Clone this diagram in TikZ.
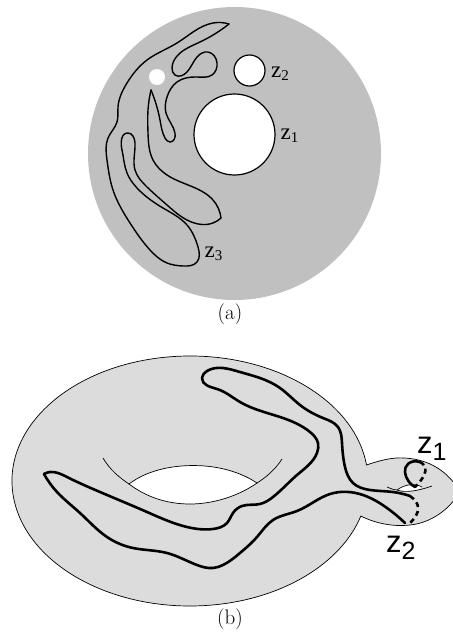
\documentclass[tikz,border=0pt]{standalone}
\usepackage{fontspec}
\usepackage{xcolor}
\usetikzlibrary{hobby}
\newfontfamily\serifz{Liberation Serif}
\newfontfamily\sansz{Liberation Sans}
\definecolor{diskgray}{HTML}{C0C0C0}
\definecolor{torusgray}{HTML}{DCDCDC}
\newcommand{\zserif}[1]{{\serifz\fontsize{23}{23}\selectfont z\raisebox{-3.5pt}{\fontsize{15}{15}\selectfont #1}}}
\newcommand{\zsans}[1]{{\sansz\fontsize{31}{31}\selectfont z\raisebox{-7pt}{\fontsize{25}{25}\selectfont #1}}}
\begin{document}
\begin{tikzpicture}[
    x=1pt,
    y=-1pt,
    use Hobby shortcut,
    curve/.style={
        draw=black,
        line width=1.4pt,
        line cap=round
    },
    thickcurve/.style={
        draw=black,
        line width=2.6pt,
        line cap=round,
        line join=round
    },
    thincurve/.style={
        draw=black,
        line width=0.7pt
    },
    hole/.style={
        draw=black,
        fill=white,
        line width=1.2pt
    },
    caption/.style={
        inner sep=0pt,
        font=\fontsize{21}{21}\selectfont
    },
    zlabel/.style={
        inner sep=0pt,
        anchor=base west
    }
]
\useasboundingbox (0,0) rectangle (453,633);
\clip (0,0) rectangle (453,633);
% Disk with the two holes
\fill[diskgray] (234.5,153.5) circle (146.5);
\draw[hole] (234.5,134.5) circle (40.5);
\draw[hole] (249.5,70.5) circle (15.5);
\fill[white] (157,77) circle (8);
% Loop on the disk
\draw[curve] (229,24) .. (213,23) .. (177,43) .. (147,60) .. (127,83)
    .. (118,107) .. (117,122) .. (108,138) .. (107,160) .. (113,190) .. (130,223)
    .. (150,250) .. (167,263) .. (183,266) .. (197,262) .. (198,247) .. (187,225)
    .. (163,208) .. (137,188) .. (127,173) .. (122,150) .. (128,133) .. (135,143)
    .. (135,170) .. (147,187) .. (167,205) .. (187,220) .. (213,223) .. (221,218);
\draw[curve] (221,218) .. (213,200) .. (193,187) .. (167,175) .. (153,160)
    .. (148,133) .. (148,110) .. (151,90);
\draw[curve] (151,90) .. (160,120) .. (165,138) .. (170,142) .. (175,133) .. (166,113)
    .. (167,97) .. (177,82) .. (197,77) .. (212,75) .. (217,63) .. (208,52) .. (197,57)
    .. (187,72) .. (175,75) .. (172,68) .. (178,55) .. (200,42) .. (229,24);
\node[zlabel] (z1a) at (280.5,139) {\zserif{1}};
\node[zlabel] (z2a) at (271,77) {\zserif{2}};
\node[zlabel] (z3a) at (204.5,257) {\zserif{3}};
\node[caption] (capa) at (230,314) {(a)};
% Torus outline
\draw[thincurve, fill=torusgray] (366.5,465)
    arc[start angle=-7.35, end angle=-343.7, x radius=178, y radius=125]
    .. controls (375,523) and (392,527) .. (410,525)
    .. controls (430,523) and (450,510) .. (460,491)
    .. controls (450,476) and (435,460) .. (405,458)
    .. controls (392,457) and (378,461) .. (366.5,465) -- cycle;
% Hole of the torus
\draw[thincurve, fill=white] (129,484) .. controls (150,468) and (180,464) .. (205,466)
    .. controls (228,468) and (245,475) .. (257,483)
    .. controls (240,495) and (215,504) .. (190,504)
    .. controls (165,504) and (145,496) .. (129,484) -- cycle;
\coordinate (holeleft) at (129,484);
\coordinate (holeright) at (257,483);
\draw[thincurve] (103,458) .. controls (110,470) and (120,478) .. (holeleft);
\draw[thincurve] (holeright) .. controls (265,478) and (275,470) .. (282,459);
% Small opening in the neck
\fill[white] (397,490) .. controls (405,484) and (415,483) .. (422,487)
    .. controls (418,491) and (405,493) .. (397,490) -- cycle;
\draw[thincurve] (387,487) .. controls (392,489) and (394,490) .. (397,490)
    .. controls (405,484) and (415,483) .. (422,487);
\draw[thincurve] (397,490) .. controls (405,493) and (418,491) .. (432,486);
% Curve on the torus
\draw[thickcurve] (405,523) .. (387,508) .. (363,495) .. (330,494)
    .. (297,511) .. (273,520) .. (257,537) .. (240,553) .. (223,565)
    .. (213,568) .. (197,565) .. (167,553) .. (133,548) .. (107,537) .. (80,513)
    .. (57,492) .. (44,474);
\draw[thickcurve] (44,474) .. (50,472) .. (67,477) .. (100,492) .. (147,512)
    .. (187,527) .. (213,529) .. (227,523) .. (233,513) .. (242,506) .. (260,504)
    .. (273,497) .. (297,475) .. (317,453) .. (318,443) .. (310,432) .. (283,418)
    .. (240,402) .. (217,389) .. (202,378) .. (207,371) .. (240,372) .. (257,377)
    .. (280,388) .. (300,405) .. (323,418) .. (338,427) .. (342,443) .. (345,467)
    .. (353,483) .. (370,490) .. (393,492) .. (410,496);
% Meridians at the neck
\draw[thickcurve] (420,462) .. controls (410,459) and (404,466) .. (405,472)
    .. controls (406,480) and (411,485) .. (415,487);
\draw[thickcurve, dashed, dash pattern=on 5pt off 4pt, line cap=butt]
    (420,462) .. controls (428,466) and (428,474) .. (415,487);
\draw[thickcurve, dashed, dash pattern=on 5pt off 4pt, line cap=butt]
    (410,496) .. controls (420,503) and (422,512) .. (409,524);
% Labels of the torus
\node[zlabel] (z1b) at (417,453) {\zsans{1}};
\node[zlabel] (z2b) at (386,552) {\zsans{2}};
\node[caption] (capb) at (230,619) {(b)};
\end{tikzpicture}
\end{document}
